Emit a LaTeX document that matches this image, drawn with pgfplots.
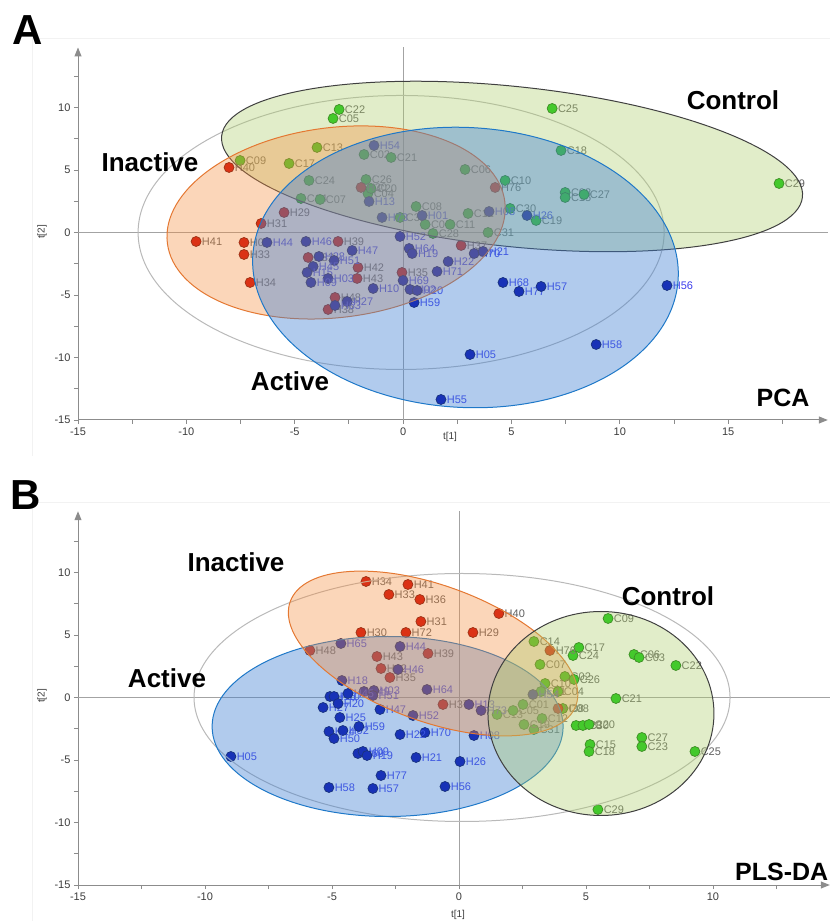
\documentclass[border=0pt]{standalone}
\usepackage{fontspec}
\setmainfont{Liberation Sans}
\usepackage{pgfplots}
\pgfplotsset{compat=1.18}
\usetikzlibrary{arrows.meta}
\definecolor{cgreen}{RGB}{10,200,10}
\definecolor{cgreenD}{RGB}{0,105,0}
\definecolor{cred}{RGB}{205,0,0}
\definecolor{credD}{RGB}{105,0,0}
\definecolor{cblue}{RGB}{0,0,165}
\definecolor{cblueD}{RGB}{0,0,70}
\definecolor{lblA}{RGB}{60,60,235}
\definecolor{lblG}{RGB}{95,95,95}
\definecolor{fillG}{RGB}{172,205,105}
\definecolor{fillO}{RGB}{245,140,60}
\definecolor{fillB}{RGB}{60,125,210}
\definecolor{lineO}{RGB}{228,120,50}
\definecolor{lineB}{RGB}{30,120,200}
\definecolor{axisgray}{RGB}{140,140,140}
\definecolor{tickgray}{RGB}{60,60,60}
\pgfplotsset{
 scoreaxis/.style={
  scale only axis, axis lines=left, clip=false,
  axis line style={axisgray, line width=1pt, -{Triangle[length=9pt,width=7pt]}},
  tick align=outside, major tick length=4pt, minor tick length=4pt,
  tick style={axisgray, line width=0.8pt},
  ticklabel style={font=\fontsize{11}{11}\selectfont, text=tickgray},
  /pgf/number format/assume math mode=true,
  ytick={-15,-10,...,10},
  minor ytick={-12.5,-7.5,...,12.5},
 },
 pts/.style n args={3}{only marks, mark=*, mark size=5pt,
  mark options={fill=#1, draw=#2, line width=0.7pt},
  nodes near coords, point meta=explicit symbolic,
  nodes near coords style={font=\fontsize{11}{11}\selectfont, text=#3, anchor=west, xshift=4.5pt, inner sep=1pt}},
}
\begin{document}
\begin{tikzpicture}
\useasboundingbox (0,0) rectangle (830pt,921pt);
\draw[gray!10] (32pt,465pt) -- (32pt,883pt) -- (830pt,883pt);
\draw[gray!10] (32pt,0pt) -- (32pt,419pt) -- (830pt,419pt);
% ---------------- Panel A ----------------
\begin{axis}[scoreaxis, at={(78pt,501pt)}, anchor=south west,
  width=749.8pt, height=372.5pt, xmin=-15, xmax=19.6, ymin=-15, ymax=14.8,
  xtick={-15,-10,...,15}, minor xtick={-12.5,-7.5,...,17.5}]
\draw[axisgray!80, line width=0.8pt] (axis cs:0,-15) -- (axis cs:0,14.8);
\draw[axisgray!80, line width=0.8pt] (axis cs:-15,0) -- (axis cs:19.6,0);
\addplot[pts={cgreen}{cgreenD}{lblG}] table[meta=l] {
x y l
-2.95 9.84 C22
-3.23 9.12 C05
-3.97 6.80 C13
-7.52 5.76 C09
-5.26 5.52 C17
-1.80 6.24 C02
-0.55 6.00 C21
-4.34 4.16 C24
-1.71 4.24 C26
-1.62 3.12 C04
-1.48 3.52 C20
-4.71 2.72 C14
-3.83 2.64 C07
-0.14 1.20 C32
0.60 2.08 C08
1.02 0.64 C01
2.17 0.64 C11
1.38 -0.08 C28
3.92 0.00 C31
3.00 1.52 C12
2.86 5.04 C06
4.71 4.16 C10
4.94 1.92 C30
6.14 0.96 C19
6.88 9.92 C25
7.29 6.56 C18
17.35 3.92 C29
7.48 3.20 C03
7.48 2.80 C15
8.35 3.04 C27
};
\addplot[pts={cred}{credD}{lblG}] table[meta=l] {
x y l
-8.03 5.20 H40
-5.49 1.60 H29
-6.55 0.72 H31
-9.55 -0.72 H41
-7.34 -0.80 H06
-7.34 -1.76 H33
-7.06 -4.00 H34
-3.00 -0.72 H39
-4.38 -2.00 H32
-2.08 -2.80 H42
-2.12 -3.68 H43
-3.14 -5.20 H48
-3.46 -6.16 H38
2.68 -1.04 H37
-0.05 -3.20 H35
-1.94 3.60 H30
4.25 3.60 H76
};
\addplot[pts={cblue}{cblueD}{lblA}] table[meta=l] {
x y l
-1.34 6.96 H54
-1.57 2.48 H13
-0.97 1.20 H73
-6.28 -0.80 H44
-4.48 -0.72 H46
-2.35 -1.44 H47
-3.88 -1.92 H28
-3.18 -2.24 H51
-4.15 -2.72 H45
-4.43 -3.20 H15
-3.46 -3.68 H03
-4.25 -4.00 H09
-1.38 -4.48 H10
-2.58 -5.52 H27
-3.14 -5.84 H63
-0.14 -0.32 H52
0.28 -1.28 H64
0.42 -1.68 H19
2.08 -2.32 H22
1.57 -3.12 H71
0.00 -3.84 H69
0.32 -4.56 H02
0.65 -4.64 H20
0.51 -5.60 H59
3.28 -1.68 H70
3.69 -1.52 H21
0.88 1.36 H01
3.97 1.68 H08
5.72 1.36 H26
4.61 -4.00 H68
5.35 -4.72 H77
6.37 -4.32 H57
12.18 -4.24 H56
8.91 -8.96 H58
3.09 -9.76 H05
1.75 -13.36 H55
};
\coordinate (gA) at (axis cs:-0.09,0);
\coordinate (cA) at (axis cs:5.03,5.28);
\coordinate (iA) at (axis cs:-3.09,0.8);
\coordinate (aA) at (axis cs:2.88,-2.8);
\end{axis}
\draw[gray!55, line width=1pt] (gA) ellipse [x radius=263pt, y radius=137pt];
\filldraw[fill=fillG, fill opacity=0.36, draw=black!75, line width=1pt, rotate around={-6:(cA)}] (cA) ellipse [x radius=292pt, y radius=80pt];
\filldraw[fill=fillO, fill opacity=0.36, draw=lineO, line width=1pt, rotate around={7:(iA)}] (iA) ellipse [x radius=170pt, y radius=95pt];
\filldraw[fill=fillB, fill opacity=0.40, draw=lineB, line width=1pt, rotate around={-3:(aA)}] (aA) ellipse [x radius=213pt, y radius=140pt];
\node[font=\fontsize{42}{42}\selectfont\bfseries] at (28pt,891pt) {A};
\node[font=\fontsize{26}{26}\selectfont\bfseries] at (733pt,821pt) {Control};
\node[font=\fontsize{26}{26}\selectfont\bfseries] at (150pt,759pt) {Inactive};
\node[font=\fontsize{26}{26}\selectfont\bfseries] at (290pt,540pt) {Active};
\node[font=\fontsize{25}{25}\selectfont\bfseries] at (783pt,523pt) {PCA};
\node[font=\fontsize{10}{10}\selectfont, text=tickgray] at (450pt,484pt) {t[1]};
\node[font=\fontsize{10}{10}\selectfont, text=tickgray, rotate=90] at (42pt,689pt) {t[2]};
% ---------------- Panel B ----------------
\begin{axis}[scoreaxis, at={(78pt,36pt)}, anchor=south west,
  width=751.8pt, height=373.75pt, xmin=-15, xmax=14.6, ymin=-15, ymax=14.9,
  xtick={-15,-10,...,10}, minor xtick={-12.5,-7.5,...,12.5}]
\draw[axisgray!80, line width=0.8pt] (axis cs:0,-15) -- (axis cs:0,14.9);
\draw[axisgray!80, line width=0.8pt] (axis cs:-15,0) -- (axis cs:14.6,0);
\addplot[pts={cgreen}{cgreenD}{lblG}] table[meta=l] {
x y l
5.87 6.32 C09
2.95 4.48 C14
4.72 4.00 C17
4.49 3.36 C24
6.89 3.44 C06
7.09 3.20 C03
8.54 2.56 C22
3.19 2.64 C07
4.17 1.68 C02
4.53 1.44 C26
3.39 1.12 C10
3.90 0.48 C04
3.23 0.48 C11
6.18 -0.08 C21
1.50 -1.36 C13
2.13 -1.04 C05
2.52 -0.56 C01
3.27 -1.68 C12
2.95 -2.56 C31
2.56 -2.16 C19
4.61 -2.24 C28
4.88 -2.24 C30
5.12 -2.16 C20
5.16 -3.76 C15
5.12 -4.32 C18
7.20 -3.20 C27
7.20 -3.92 C23
9.29 -4.32 C25
5.47 -8.96 C29
4.09 -0.88 C08
};
\addplot[pts={cred}{credD}{lblG}] table[meta=l] {
x y l
-3.66 9.28 H34
-2.01 9.04 H41
-2.76 8.24 H33
-1.54 7.84 H36
-1.50 6.08 H31
-3.86 5.20 H30
-2.09 5.20 H72
1.57 6.72 H40
0.55 5.20 H29
-5.87 3.76 H48
-3.23 3.28 H43
-3.07 2.32 H42
-2.72 1.60 H35
-1.22 3.52 H39
-0.63 -0.56 H37
3.58 3.76 H76
3.90 -0.88 H38
};
\addplot[pts={cblue}{cblueD}{lblA}] table[meta=l] {
x y l
-4.65 4.32 H65
-2.32 4.08 H44
-2.40 2.24 H46
-4.61 1.36 H18
-3.74 0.48 H49
-3.35 0.56 H03
-3.39 0.16 H51
-3.11 -0.96 H47
-1.26 0.64 H64
-1.81 -1.44 H52
0.39 -0.56 H13
0.87 -1.04 H73
-1.34 -2.80 H70
0.59 -3.04 H08
-2.32 -2.96 H22
-1.69 -4.80 H21
0.04 -5.12 H26
-0.55 -7.12 H56
-8.98 -4.72 H05
-5.12 -7.20 H58
-3.39 -7.28 H57
-3.07 -6.24 H77
-5.08 0.08 H15
-4.92 0.08 H10
-5.35 -0.80 H27
-4.76 -0.48 H20
-4.37 0.32 H45
-4.69 -1.60 H25
-5.12 -2.72 H24
-4.57 -2.64 H02
-4.92 -3.28 H50
-3.94 -2.32 H59
-3.98 -4.48 H69
-3.78 -4.32 H09
-3.62 -4.64 H19
2.91 0.24 H54
};
\coordinate (gB) at (axis cs:0.12,0);
\coordinate (cB) at (axis cs:5.59,-1.28);
\coordinate (iB) at (axis cs:-1.02,3.52);
\coordinate (aB) at (axis cs:-2.81,-2.32);
\end{axis}
\draw[gray!55, line width=1pt] (gB) ellipse [x radius=268pt, y radius=124pt];
\filldraw[fill=fillB, fill opacity=0.40, draw=lineB, line width=1pt] (aB) ellipse [x radius=175.5pt, y radius=90pt];
\filldraw[fill=fillO, fill opacity=0.36, draw=lineO, line width=1pt, rotate around={-20:(iB)}] (iB) ellipse [x radius=152pt, y radius=68pt];
\filldraw[fill=fillG, fill opacity=0.36, draw=black!75, line width=1pt] (cB) ellipse [x radius=113pt, y radius=102pt];
\node[font=\fontsize{42}{42}\selectfont\bfseries] at (26pt,426pt) {B};
\node[font=\fontsize{26}{26}\selectfont\bfseries] at (236pt,359pt) {Inactive};
\node[font=\fontsize{26}{26}\selectfont\bfseries] at (668pt,325pt) {Control};
\node[font=\fontsize{26}{26}\selectfont\bfseries] at (167pt,243pt) {Active};
\node[font=\fontsize{25}{25}\selectfont\bfseries, anchor=west, inner sep=0pt] at (735pt,49pt) {PLS-DA};
\node[font=\fontsize{10}{10}\selectfont, text=tickgray] at (458pt,6pt) {t[1]};
\node[font=\fontsize{10}{10}\selectfont, text=tickgray, rotate=90] at (42pt,225pt) {t[2]};
\end{tikzpicture}
\end{document}
